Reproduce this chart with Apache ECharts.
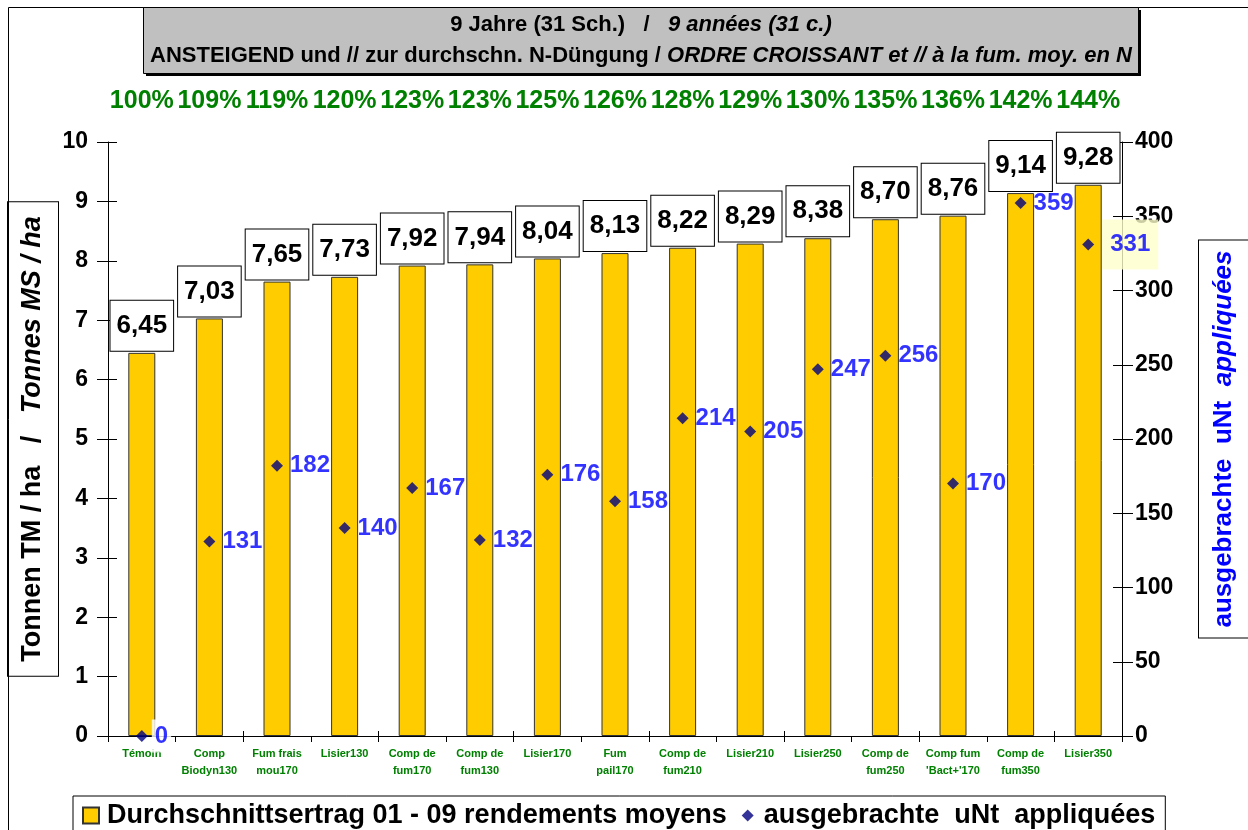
<!DOCTYPE html>
<html>
<head>
<meta charset="utf-8">
<script src="https://cdn.jsdelivr.net/npm/echarts@6/dist/echarts.min.js"></script>
<style>
html,body{margin:0;padding:0;background:#fff;}
#chart{width:1248px;height:830px;}
</style>
</head>
<body>
<div id="chart"></div>
<script>
const categories = ["Témoin", "Comp\nBiodyn130", "Fum frais\nmou170", "Lisier130", "Comp de\nfum170", "Comp de\nfum130", "Lisier170", "Fum\npail170", "Comp de\nfum210", "Lisier210", "Lisier250", "Comp de\nfum250", "Comp fum\n'Bact+'170", "Comp de\nfum350", "Lisier350"];
const percentLabels = ["100%", "109%", "119%", "120%", "123%", "123%", "125%", "126%", "128%", "129%", "130%", "135%", "136%", "142%", "144%"];
const yieldValues = [6.45, 7.03, 7.65, 7.73, 7.92, 7.94, 8.04, 8.13, 8.22, 8.29, 8.38, 8.70, 8.76, 9.14, 9.28];
const nitrogenValues = [0, 131, 182, 140, 167, 132, 176, 158, 214, 205, 247, 256, 170, 359, 331];
const leftTicks = {min: 0, max: 10, interval: 1};
const rightTicks = {min: 0, max: 400, interval: 50};
const seriesNames = ["Durchschnittsertrag 01 - 09 rendements moyens", "ausgebrachte  uNt  appliquées"];

const FONT = 'Arial, "Liberation Sans", sans-serif';
const chart = echarts.init(document.getElementById('chart'), null, {renderer: 'canvas'});

const scatterData = nitrogenValues.map((v, i) => {
  const d = {value: v};
  if (i === 0) d.label = {backgroundColor: '#ffffff', padding: [13, 3, 0, 3], lineHeight: 20};
  if (i === nitrogenValues.length - 1) d.label = {backgroundColor: '#ffffcc', padding: [13, 8], distance: 8};
  return d;
});

const option = {
  animation: false,
  backgroundColor: '#ffffff',
  textStyle: {fontFamily: FONT},
  graphic: [
    {type: 'rect', z: 100, silent: true, shape: {x: 8.5, y: 7.5, width: 1300, height: 900},
     style: {fill: 'none', stroke: '#000', lineWidth: 1}},
    {type: 'rect', z: 100, silent: true, shape: {x: 146, y: 10, width: 995, height: 66},
     style: {fill: '#000'}},
    {type: 'rect', z: 101, silent: true, shape: {x: 143.5, y: 7.5, width: 995, height: 66},
     style: {fill: '#c0c0c0', stroke: '#000', lineWidth: 1}},
    {type: 'text', z: 102, silent: true, x: 641, y: 9,
     style: {
       text: '{n|9 Jahre (31 Sch.)   /   }{i|9 années (31 c.)}\n{n|ANSTEIGEND und // zur durchschn. N-Düngung / }{i|ORDRE CROISSANT et // à la fum. moy. en N}',
       align: 'center', verticalAlign: 'top',
       rich: {
         n: {fontFamily: FONT, fontSize: 22, fontWeight: 'bold', fill: '#000', lineHeight: 31},
         i: {fontFamily: FONT, fontSize: 22, fontWeight: 'bold', fontStyle: 'italic', fill: '#000', lineHeight: 31}
       }
     }}
  ],
  legend: {
    left: 73, top: 796,
    padding: [6, 10, 8, 9],
    borderColor: '#000', borderWidth: 1,
    backgroundColor: '#fff',
    itemWidth: 16, itemHeight: 16, itemGap: 13,
    textStyle: {fontFamily: FONT, fontSize: 27, fontWeight: 'bold', color: '#000', padding: [0, 0, 0, 3]},
    data: [
      {name: seriesNames[0], icon: 'rect'},
      {name: seriesNames[1], icon: 'path://M0,0 M16,16 M8,2 L14,8 L8,14 L2,8 Z'}
    ]
  },
  grid: {left: 108, right: 126, top: 142, bottom: 94, containLabel: false, outerBoundsMode: 'none'},
  xAxis: [
    {
      type: 'category', data: categories, position: 'bottom',
      axisLine: {show: true, lineStyle: {color: '#000', width: 1}},
      axisTick: {show: true, inside: false, length: 6, alignWithLabel: false, lineStyle: {color: '#000'}},
      axisLabel: {interval: 0, margin: 9, color: '#008000', fontFamily: FONT, fontSize: 11, fontWeight: 'bold', lineHeight: 17},
      splitLine: {show: false}
    },
    {
      type: 'category', data: percentLabels, position: 'top',
      axisLine: {show: false}, axisTick: {show: false},
      axisLabel: {interval: 0, hideOverlap: false, margin: 28, color: '#008000', fontFamily: FONT, fontSize: 25, fontWeight: 'bold'},
      splitLine: {show: false}
    },
    {
      type: 'category', data: categories, position: 'bottom',
      axisLine: {show: false},
      axisTick: {show: true, inside: true, length: 5, lineStyle: {color: '#000'}},
      axisLabel: {show: false}, splitLine: {show: false}
    }
  ],
  yAxis: [
    {
      type: 'value', position: 'left', min: leftTicks.min, max: leftTicks.max, interval: leftTicks.interval,
      name: '{n|Tonnen TM / ha   /   }{i|Tonnes MS / ha}',
      nameLocation: 'middle', nameRotate: 90, nameGap: 50, nameMoveOverlap: false,
      nameTextStyle: {
        align: 'center', padding: [11, 14], backgroundColor: '#fff', borderColor: '#000', borderWidth: 1,
        rich: {
          n: {fontFamily: FONT, fontSize: 27, fontWeight: 'bold', color: '#000', lineHeight: 28},
          i: {fontFamily: FONT, fontSize: 27, fontWeight: 'bold', fontStyle: 'italic', color: '#000', lineHeight: 28}
        }
      },
      axisLine: {show: true, lineStyle: {color: '#000', width: 1}},
      axisTick: {show: true, length: 11, lineStyle: {color: '#000'}},
      axisLabel: {margin: 20, color: '#000', fontFamily: FONT, fontSize: 23, fontWeight: 'bold'},
      splitLine: {show: false}
    },
    {
      type: 'value', position: 'right', min: rightTicks.min, max: rightTicks.max, interval: rightTicks.interval,
      name: 'ausgebrachte  uNt  {i|appliquées}',
      nameLocation: 'middle', nameRotate: 90, nameGap: 77, nameMoveOverlap: false,
      nameTextStyle: {
        align: 'center', padding: [11, 10], backgroundColor: '#fff', borderColor: '#000', borderWidth: 1,
        fontFamily: FONT, fontSize: 26, fontWeight: 'bold', color: '#0000ff', lineHeight: 28,
        rich: {
          i: {fontFamily: FONT, fontSize: 26, fontWeight: 'bold', fontStyle: 'italic', color: '#0000ff', lineHeight: 28}
        }
      },
      axisLine: {show: true, lineStyle: {color: '#000', width: 1}},
      axisTick: {show: true, length: 11, lineStyle: {color: '#000'}},
      axisLabel: {margin: 13, color: '#000', fontFamily: FONT, fontSize: 23, fontWeight: 'bold'},
      splitLine: {show: false}
    },
    {
      type: 'value', position: 'left', min: leftTicks.min, max: leftTicks.max, interval: leftTicks.interval,
      axisLine: {show: false},
      axisTick: {show: true, inside: true, length: 9, lineStyle: {color: '#000'}},
      axisLabel: {show: false}, splitLine: {show: false}
    },
    {
      type: 'value', position: 'right', min: rightTicks.min, max: rightTicks.max, interval: rightTicks.interval,
      axisLine: {show: false},
      axisTick: {show: true, inside: true, length: 9, lineStyle: {color: '#000'}},
      axisLabel: {show: false}, splitLine: {show: false}
    }
  ],
  series: [
    {
      name: seriesNames[0], type: 'bar', xAxisIndex: 0, yAxisIndex: 0,
      data: yieldValues, barWidth: 27,
      itemStyle: {color: '#ffcc00', borderColor: '#333', borderWidth: 1},
      label: {
        show: true, position: 'top', distance: 2,
        formatter: p => p.value.toFixed(2).replace('.', ','),
        fontFamily: FONT, fontSize: 26, fontWeight: 'bold', color: '#000',
        backgroundColor: '#fff', borderColor: '#000', borderWidth: 1, padding: [12, 6]
      },
      z: 2
    },
    {
      name: seriesNames[1], type: 'scatter', xAxisIndex: 0, yAxisIndex: 1,
      data: scatterData, symbol: 'diamond', symbolSize: 12,
      itemStyle: {color: '#000080'},
      label: {
        show: true, position: 'right', distance: 4, padding: [13, 3],
        formatter: p => String(p.value),
        fontFamily: FONT, fontSize: 24, fontWeight: 'bold', color: '#0000ff'
      },
      z: 5
    }
  ]
};
chart.setOption(option);
</script>
</body>
</html>
